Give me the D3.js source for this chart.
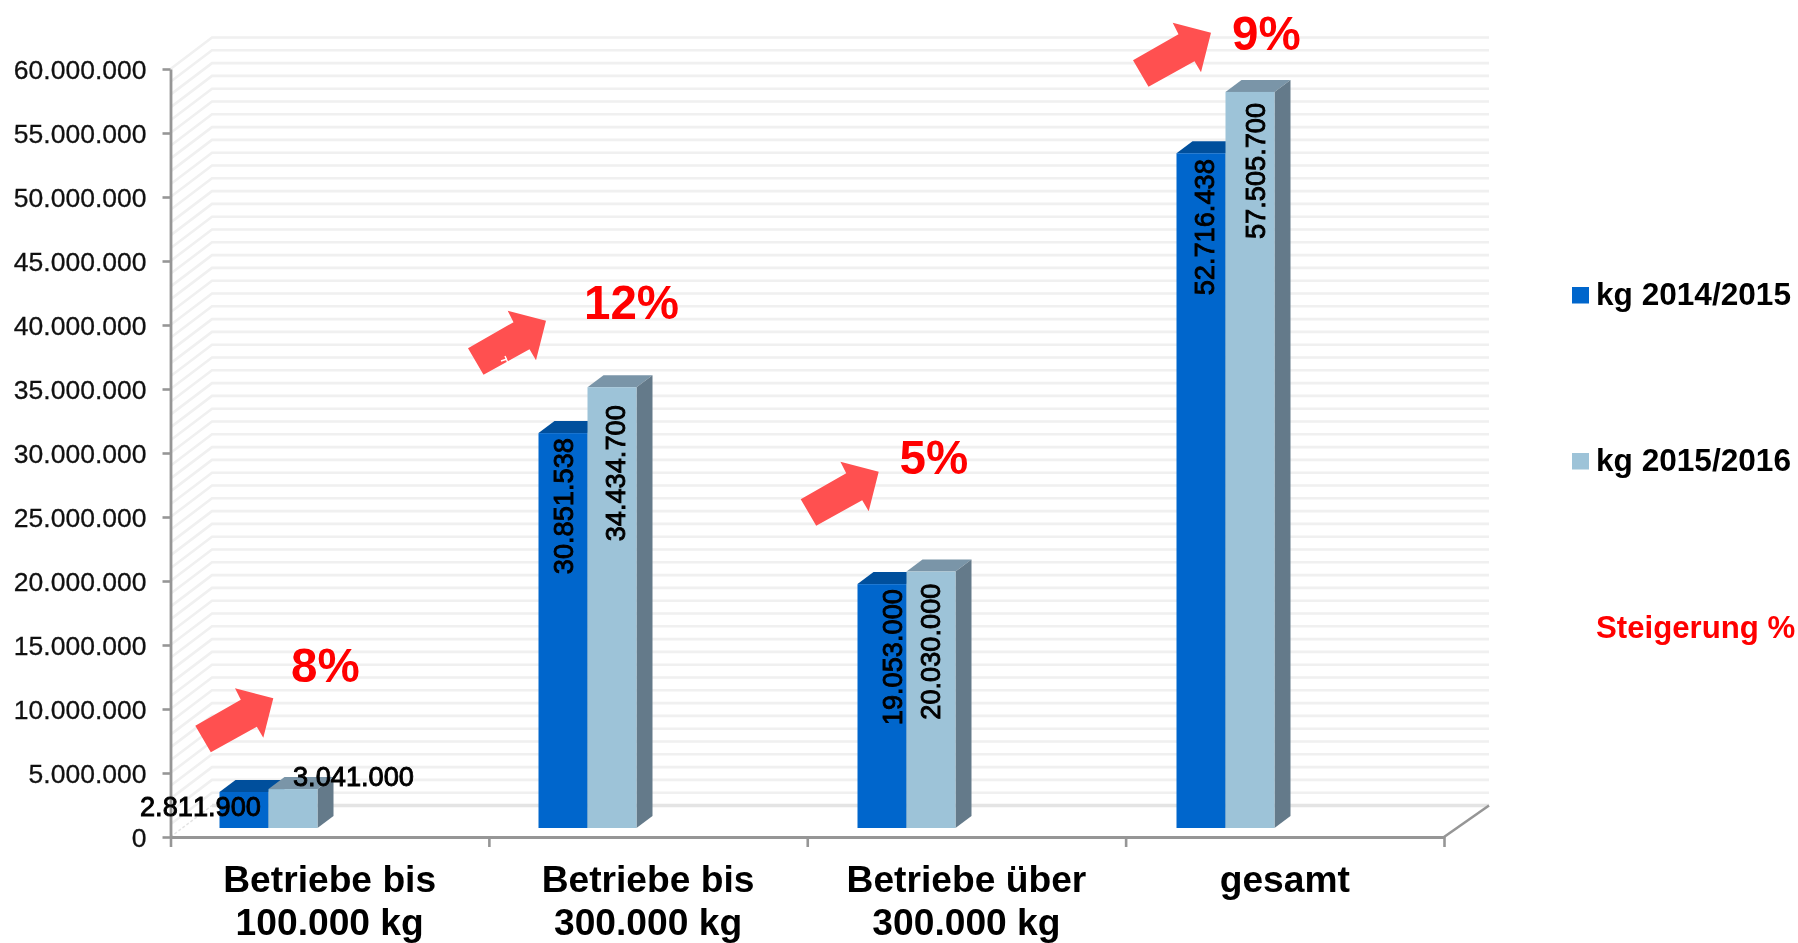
<!DOCTYPE html>
<html lang="de">
<head>
<meta charset="utf-8">
<title>Steigerung kg</title>
<script src="https://cdn.jsdelivr.net/npm/d3@7"></script>
<style>
html,body{margin:0;padding:0;background:#fff;overflow:hidden}
svg{display:block;filter:blur(0.6px)}
text{font-family:"Liberation Sans",Arial,sans-serif;font-kerning:none}
</style>
</head>
<body>
<svg id="chart" width="1798" height="943"></svg>
<script>
// ---- data ----
const categories = [["Betriebe bis","100.000 kg"],["Betriebe bis","300.000 kg"],["Betriebe über","300.000 kg"],["gesamt"]];
const seriesNames = ["kg 2014/2015","kg 2015/2016"];
const kg20142015 = [2811900,30851538,19053000,52716438];
const kg20152016 = [3041000,34434700,20030000,57505700];
const steigerung = ["8%","12%","5%","9%"];
const legendNote = "Steigerung %";

// ---- layout ----
const yMax = 60000000;
const depth = {x:41.5, y:31.5};
const barDepth = {x:16, y:12};
const barW = 49;
const colors = [
  {front:"#0066CC", top:"#004F9C", side:"#004A8C"},
  {front:"#9DC3D8", top:"#7A95A8", side:"#647A8A"}
];
const axisColor = "#969696", gridColor = "#f0f0f0";

const svg = d3.select("#chart");
const de = d3.formatLocale({decimal:",",thousands:".",grouping:[3],currency:["","€"]});
const fmt = de.format(",d");

const yAxisScale = d3.scaleLinear().domain([0,yMax]).range([837,69]);
const yBar = d3.scaleLinear().domain([0,yMax]).range([828,60]);
const xTick = d3.scaleLinear().domain([0,categories.length]).range([170.5,1444]);
const xBar = d3.scalePoint().domain(d3.range(categories.length)).range([219.5,1176.5]);

// ---- walls & gridlines ----
const minor = yAxisScale.ticks(60);
const grid = svg.append("g").attr("fill","none");
const x0 = xTick(0), xb = x0 + depth.x, xr = 1489;
grid.selectAll("path.g").data(minor.filter(d=>d>0)).join("path")
  .attr("class","g")
  .attr("stroke",gridColor).attr("stroke-width",2.6)
  .attr("d",d=>{
    const y=yAxisScale(d);
    return d3.line()([[x0,y],[xb,y-depth.y],[xr,y-depth.y]]);
  });
// floor back edge
grid.append("path").attr("stroke","#e4e4e4").attr("stroke-width",3.4)
  .attr("d",d3.line()([[xb,yAxisScale(0)-depth.y],[xr,yAxisScale(0)-depth.y]]));
grid.append("path").attr("stroke","#e4e4e4").attr("stroke-width",1.5).attr("stroke-dasharray","3 2")
  .attr("d",d3.line()([[x0,yAxisScale(0)],[xb,yAxisScale(0)-depth.y]]));
// right floor edge
grid.append("path").attr("stroke",axisColor).attr("stroke-width",2.6)
  .attr("d",d3.line()([[xTick(categories.length),yAxisScale(0)],[xr,yAxisScale(0)-depth.y]]));

// ---- axes ----
const gy = svg.append("g").attr("transform",`translate(${x0},0)`)
  .call(d3.axisLeft(yAxisScale).tickValues(d3.range(0,yMax+1,5000000)).tickFormat(fmt).tickSize(8).tickSizeOuter(0).tickPadding(16));
const gx = svg.append("g").attr("transform",`translate(0,${yAxisScale(0)})`)
  .call(d3.axisBottom(xTick).tickValues(d3.range(0,categories.length+1)).tickFormat("").tickSize(10).tickSizeOuter(0));
[gy,gx].forEach(g=>{
  g.select(".domain").attr("stroke",axisColor).attr("stroke-width",2.8);
  g.selectAll(".tick line").attr("stroke",axisColor).attr("stroke-width",2.6);
});
gy.selectAll(".tick text").attr("font-size",26.5).attr("font-family",'"Liberation Sans",Arial,sans-serif')
  .attr("fill","#111").attr("stroke","#111").attr("stroke-width",0.3).attr("dy","0.35em");

// ---- 3D bars ----
const seriesValues = [kg20142015,kg20152016];
const barsG = svg.append("g");
seriesValues.forEach((vals,s)=>{
  const g = barsG.append("g");
  const c = colors[s];
  const left = i => xBar(i) + s*barW;
  g.selectAll("path.top").data(vals).join("path").attr("class","top").attr("fill",c.top)
    .attr("d",(v,i)=>{
      const x=left(i), y=yBar(v);
      return d3.line()([[x,y],[x+barDepth.x,y-barDepth.y],[x+barW+barDepth.x,y-barDepth.y],[x+barW,y]])+"Z";
    });
  g.selectAll("path.side").data(vals).join("path").attr("class","side").attr("fill",c.side)
    .attr("d",(v,i)=>{
      const x=left(i)+barW, y=yBar(v), b=yBar(0);
      return d3.line()([[x,y],[x+barDepth.x,y-barDepth.y],[x+barDepth.x,b-barDepth.y],[x,b]])+"Z";
    });
  g.selectAll("rect").data(vals).join("rect").attr("fill",c.front)
    .attr("x",(v,i)=>left(i)).attr("width",barW)
    .attr("y",v=>yBar(v)).attr("height",v=>yBar(0)-yBar(v));
});

// ---- value labels ----
const labelStyle = sel => sel.attr("font-size",27.2).attr("fill","#000").attr("stroke","#000").attr("stroke-width",0.9);
// rotated labels: [center offset from the bar's left edge, inset from bar top], per series & category
const rotCenter = [[null,24.5,35,27.5],[null,28,24,30]];
const rotInset  = [[null,5,5,6],[null,18,12,11]];
seriesValues.forEach((vals,s)=>{
  vals.forEach((v,i)=>{
    if(i===0) return;
    labelStyle(svg.append("text"))
      .attr("transform",`translate(${xBar(i)+s*barW+rotCenter[s][i]},${yBar(v)+rotInset[s][i]}) rotate(-90)`)
      .attr("text-anchor","end").attr("dy","0.36em").text(fmt(v));
  });
});
labelStyle(svg.append("text")).attr("x",140).attr("y",816).text(fmt(kg20142015[0]));
labelStyle(svg.append("text")).attr("x",293).attr("y",786).text(fmt(kg20152016[0]));

// ---- category labels ----
categories.forEach((lines,i)=>{
  lines.forEach((t,k)=>{
    svg.append("text").attr("x",(xTick(i)+xTick(i+1))/2).attr("y",892+k*43)
      .attr("text-anchor","middle").attr("font-size",37.2).attr("font-weight","bold").attr("fill","#000").text(t);
  });
});

// ---- arrows and percentages ----
const arrowShape = [[-78,27.5],[-62.5,54],[-16.5,28.5],[-10,39.5],[0,0],[-38.3,-10],[-32.5,1.5]];
const arrowTips = [[273.3,698.3],[546,320.7],[878.7,471.7],[1211,32.7]];
const pctPos = [[291,681.7],[584,319],[899.5,474],[1232,50]];
steigerung.forEach((p,i)=>{
  svg.append("path").attr("fill","#FF5050")
    .attr("transform",`translate(${arrowTips[i][0]},${arrowTips[i][1]})`)
    .attr("d",d3.line()(arrowShape)+"Z");
  svg.append("text").attr("x",pctPos[i][0]).attr("y",pctPos[i][1])
    .attr("font-size",47.5).attr("font-weight","bold").attr("fill","#FF0000").text(p);
});
// small white flecks on the second arrow
svg.append("path").attr("fill","none").attr("stroke","#fff").attr("stroke-width",1.4)
  .attr("d","M501 361l6-2M505 356l3 7M509 362l3 4");

// ---- legend ----
const legendY = [[287,305],[453,470.7]];
seriesNames.forEach((n,i)=>{
  svg.append("rect").attr("x",1572).attr("y",legendY[i][0]).attr("width",17).attr("height",16.5).attr("fill",colors[i].front);
  svg.append("text").attr("x",1596).attr("y",legendY[i][1]).attr("font-size",31.6).attr("font-weight","bold").attr("fill","#000").text(n);
});
svg.append("text").attr("x",1596).attr("y",638).attr("font-size",31.2).attr("font-weight","bold").attr("fill","#FF0000").text(legendNote);
</script>
</body>
</html>
